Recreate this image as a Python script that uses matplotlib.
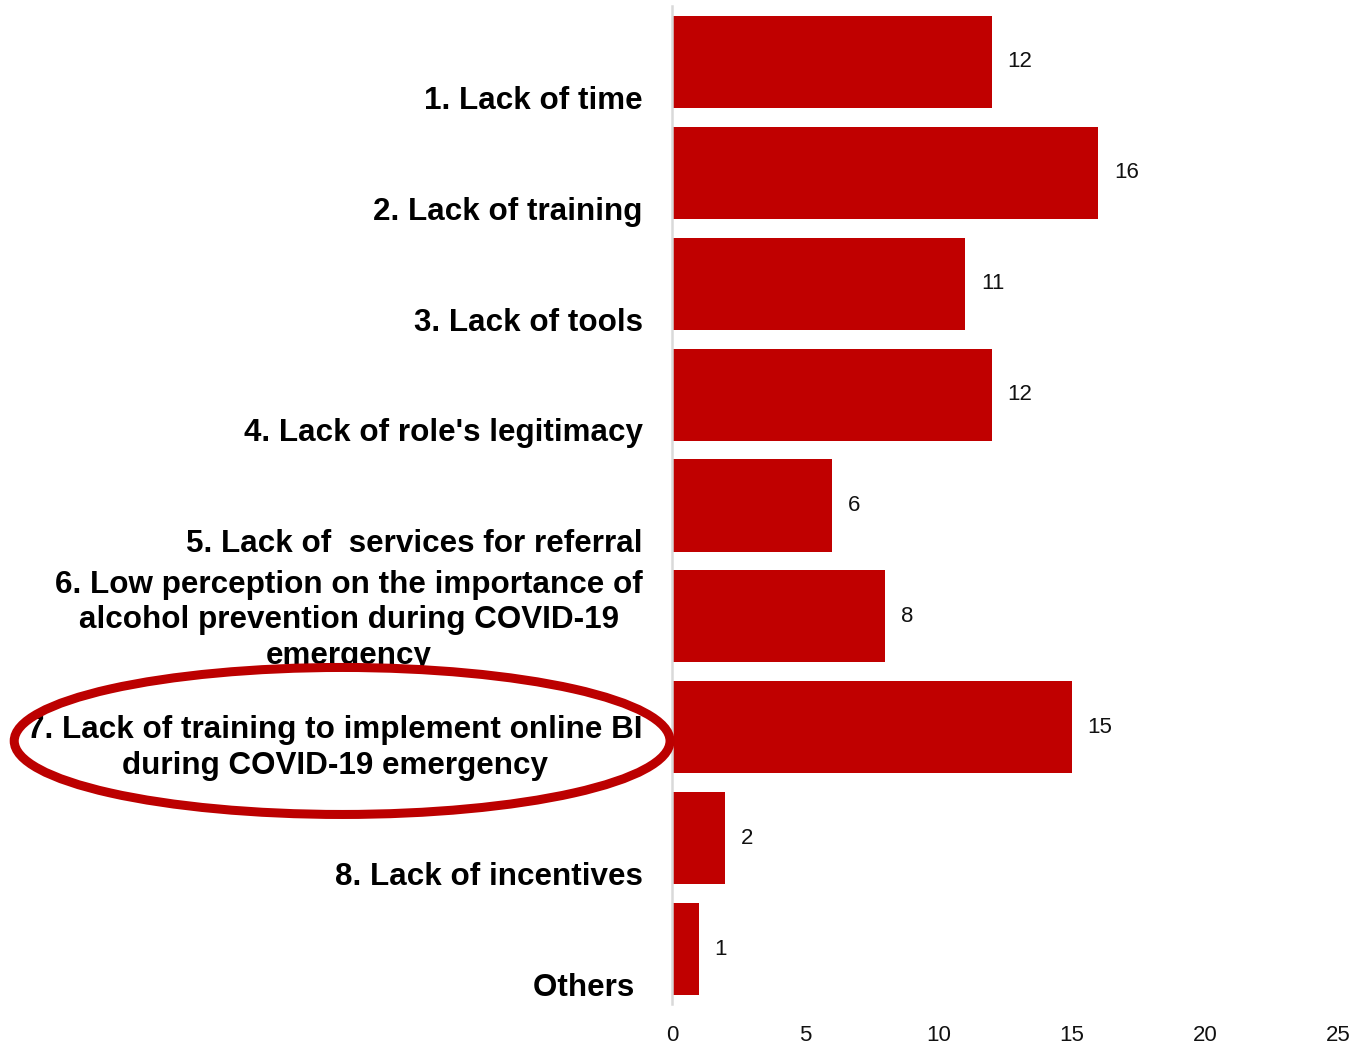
import matplotlib
matplotlib.use("Agg")
import matplotlib.pyplot as plt
from matplotlib.patches import Ellipse

plt.rcParams['font.family'] = ['Liberation Sans', 'DejaVu Sans']

labels = [
    "1. Lack of time",
    "2. Lack of training",
    "3. Lack of tools",
    "4. Lack of role's legitimacy",
    "5. Lack of  services for referral",
    "6. Low perception on the importance of\nalcohol prevention during COVID-19\nemergency",
    "7. Lack of training to implement online BI\nduring COVID-19 emergency",
    "8. Lack of incentives",
    "Others ",
]
counts = [12, 16, 11, 12, 6, 8, 15, 2, 1]
xticks_vals = [0, 5, 10, 15, 20, 25]

# vertical nudge of each category label relative to its bar (in slot units)
label_shift = [0.35, 0.35, 0.35, 0.35, 0.35, 0.035, 0.19, 0.35, 0.355]

red = "#C00000"

fig = plt.figure(figsize=(13.55, 10.47), dpi=100)
ax = fig.add_axes([0.496, 0.0406, 0.4915, 0.9532])

pos = list(range(len(counts)))
bars = ax.barh(pos, counts, height=0.83, color=red, zorder=2)

for y, v in zip(pos, counts):
    ax.text(v + 0.6, y, str(v), va="center", ha="left", fontsize=16, color="#111111")

for y, lab, dy in zip(pos, labels, label_shift):
    ax.text(-1.1, y + dy, lab, ha="right", va="center", multialignment="center",
            fontsize=22.6, fontweight="bold", color="black", linespacing=1.25)

ax.set_xlim(0, 25)
ax.set_ylim(len(counts) - 0.5, -0.5)
ax.set_xticks(xticks_vals)
ax.set_xticklabels([str(t) for t in xticks_vals], fontsize=16, color="#111111")
ax.set_yticks([])
ax.tick_params(axis="x", length=0, pad=15)

for side in ["top", "right", "bottom"]:
    ax.spines[side].set_visible(False)
ax.spines["left"].set_color("#d9d9d9")
ax.spines["left"].set_linewidth(1.8)
ax.spines["left"].set_zorder(3)

# highlight ring round category 7
ring = Ellipse((0.2525, 0.2923), 0.484, 0.1404, transform=fig.transFigure,
               fill=False, edgecolor="#BC0000", linewidth=6.5, zorder=10)
fig.patches.append(ring)

fig.savefig("out.png", dpi=100, facecolor="white")
